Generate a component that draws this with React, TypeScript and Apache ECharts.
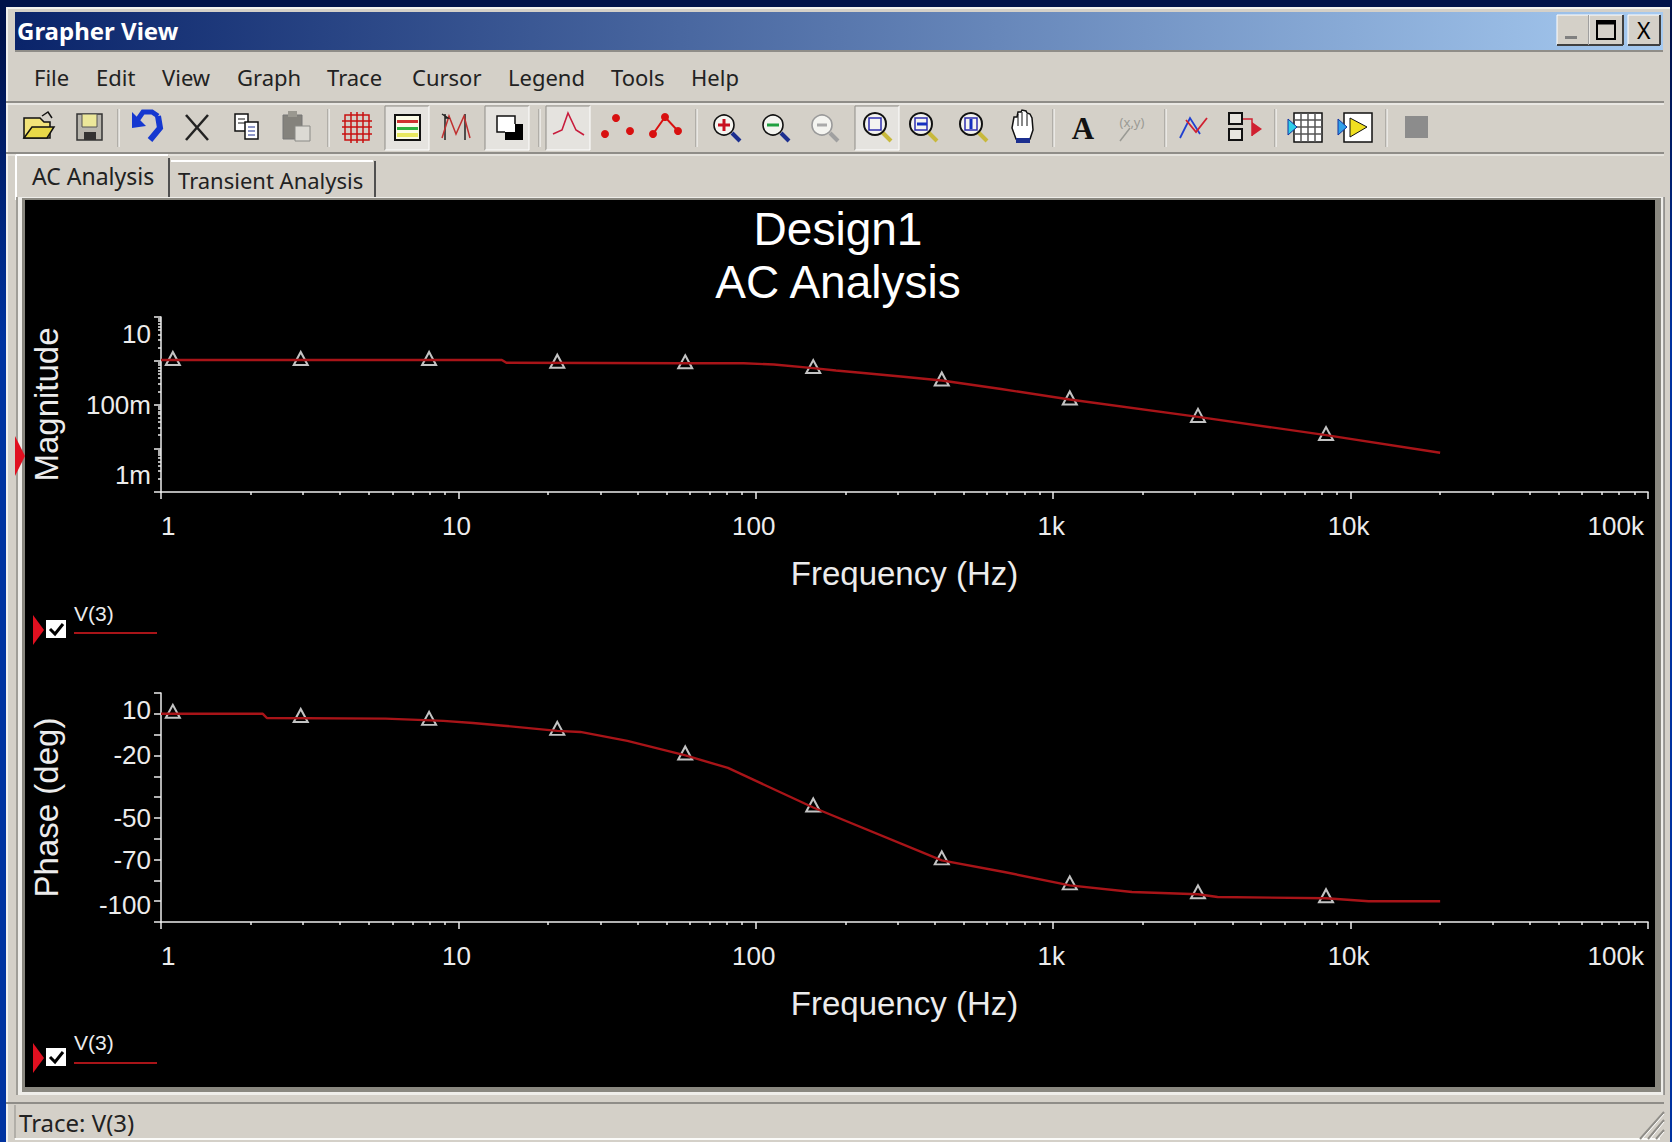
import React, { useEffect, useRef } from "react";
import * as echarts from "echarts";

const xTickLabels = ["1", "10", "100", "1k", "10k", "100k"];
const magTickLabels = ["1m", "", "100m", "", "10"];
const phaseTickLabels: Record<number, string> = { 10: "10", [-20]: "-20", [-50]: "-50", [-70]: "-70", [-100]: "-100" };

const magFreq = [1, 14, 14.5, 57, 91, 115, 156, 186, 230, 320, 422, 668, 1137, 3068, 8267, 20000];
const magValues = [1.04, 1.04, 0.9, 0.875, 0.875, 0.82, 0.68, 0.6, 0.525, 0.425, 0.354, 0.226, 0.13, 0.052, 0.02, 0.0079];

const phaseFreq = [1, 2.2, 2.27, 5.69, 8.9, 11.2, 14.2, 21.5, 25.7, 37, 58, 80.6, 156, 422, 684, 1137, 1840, 3068, 3570, 8267, 11500, 20000];
const phaseValues = [0, 0, -2, -2.3, -3.4, -4.4, -5.7, -8.2, -8.7, -13, -20, -26, -45, -70.4, -76, -82.4, -85.6, -86.7, -88, -88.6, -90, -90];

const markerFreq = [1.096, 2.95, 7.97, 21.5, 57.9, 156, 422, 1137, 3068, 8267];
const magMarkers = [1.04, 1.04, 1.04, 0.9, 0.875, 0.68, 0.354, 0.13, 0.052, 0.02];
const phaseMarkers = [0, -2, -3.4, -8.2, -20, -45, -70.4, -82.4, -86.7, -88.6];

const xMinorTicks = [1, 10, 100, 1000, 10000].flatMap((d) => [2, 3, 4, 5, 6, 7, 8, 9].map((m) => m * d));
const yMinorTicks = [0.001, 0.01, 0.1, 1].flatMap((d) => [2, 3, 4, 5, 6, 7, 8, 9].map((m) => m * d));

const menuItems: [string, number][] = [["File", 34], ["Edit", 96], ["View", 162], ["Graph", 237], ["Trace", 327], ["Cursor", 412], ["Legend", 508], ["Tools", 611], ["Help", 691]];
const separators = [118, 328, 539, 696, 1053, 1165, 1275, 1386];

const UI = "'Noto Sans', sans-serif";
const PLOT = "'Liberation Sans', Arial, sans-serif";
const WHITE = "#ececec";
const RED = "#a81418";
const GREY = "#d4d0c8";

const R = (x: number, y: number, w: number, h: number, fill: any, stroke?: string, lw = 1) => ({ type: "rect", z: -1, silent: true, shape: { x, y, width: w, height: h }, style: { fill, stroke, lineWidth: lw } });
const L = (x1: number, y1: number, x2: number, y2: number, stroke: string, lw = 1) => ({ type: "line", z: -1, silent: true, shape: { x1, y1, x2, y2 }, style: { stroke, lineWidth: lw } });
const P = (points: number[][], fill: string, stroke?: string, lw = 1) => ({ type: "polygon", z: -1, silent: true, shape: { points }, style: { fill, stroke, lineWidth: lw } });
const PL = (points: number[][], stroke: string, lw = 1.5) => ({ type: "polyline", z: -1, silent: true, shape: { points }, style: { stroke, lineWidth: lw, fill: "none" } });
const C = (cx: number, cy: number, r: number, fill: string, stroke?: string, lw = 1) => ({ type: "circle", z: -1, silent: true, shape: { cx, cy, r }, style: { fill, stroke, lineWidth: lw } });
const T = (text: string, x: number, y: number, fontSize: number, fill: string, extra: any = {}) => ({ type: "text", z: -1, silent: true, x, y, style: { text, fontSize, fill, fontFamily: UI, textVerticalAlign: "middle", verticalAlign: "middle", ...extra } });

const CY = 127;

function magnifier(x: number, inner: any[], faded = false) {
  const ring = faded ? "#9a9a9a" : "#111";
  const handle = faded ? "#a0a0a0" : "#1c2f8f";
  return [L(x + 6, CY + 6, x + 14, CY + 14, handle, 4), C(x - 2, CY - 2, 10, "#f4f4f0", ring, 1.6), ...inner];
}
function zoomBox(x: number, inner: any[]) {
  return [L(x + 5, CY + 5, x + 14, CY + 14, "#c8b93c", 4), C(x - 2, CY - 3, 11, "#f4f4f0", "#111", 2), R(x - 8, CY - 9, 12, 12, "#f4f4f0", "#2f2fb0", 1.5), ...inner];
}
function pressed(x: number, w = 44) {
  return [R(x - w / 2, 106, w, 44, "#e5e3df"), L(x - w / 2, 106, x + w / 2, 106, "#8f8d88"), L(x - w / 2, 106, x - w / 2, 150, "#8f8d88"), L(x + w / 2, 106, x + w / 2, 150, "#fff"), L(x - w / 2, 150, x + w / 2, 150, "#fff")];
}

function legendKey(triY: number, boxY: number, textY: number, lineY: number) {
  return [
    P([[33, triY - 15], [44, triY], [33, triY + 15]], "#e01020"),
    R(46, boxY, 20, 18, "#fff"),
    PL([[50, boxY + 9], [55, boxY + 14], [63, boxY + 4]], "#000", 3),
    T("V(3)", 74, textY, 21, WHITE, { fontFamily: PLOT }),
    L(74, lineY, 157, lineY, RED, 2),
  ];
}

const chrome: any[] = [
  R(0, 0, 1672, 1142, { type: "linear", x: 0, y: 0, x2: 0, y2: 1, colorStops: [{ offset: 0, color: "#00124a" }, { offset: 0.03, color: "#00124a" }, { offset: 0.3, color: "#0033a0" }, { offset: 1, color: "#0033a0" }] }),
  R(6, 7, 1664, 1135, GREY),
  L(6, 8, 1670, 8, "#f2f1ee", 2),
  L(7, 8, 7, 1142, "#f2f1ee", 2),
  R(15, 12, 1648, 38, { type: "linear", x: 0, y: 0, x2: 1, y2: 0, colorStops: [{ offset: 0, color: "#0a246a" }, { offset: 1, color: "#a6caf0" }] }),
  L(15, 51, 1663, 51, "#8f8d88", 2),
  T("Grapher View", 17, 30, 24, "#fff", { fontWeight: "bold" }),
  // window buttons
  ...[[1557, 32], [1589, 34], [1628, 32]].flatMap(([x, w]) => [R(x, 15, w, 30, GREY), L(x, 15, x + w, 15, "#fff"), L(x, 15, x, 45, "#fff"), L(x + w, 15, x + w, 45, "#404040", 2), L(x, 45, x + w, 45, "#404040", 2)]),
  R(1565, 36, 12, 3, "#808080"),
  R(1597, 21, 18, 18, "none", "#000", 2),
  L(1597, 23, 1615, 23, "#000", 3),
  T("X", 1637, 30, 23, "#000"),
  // menu
  ...menuItems.map(([t, x]) => T(t, x, 77, 22, "#222")),
  L(6, 102, 1664, 102, "#8f8d88", 2),
  L(6, 104, 1664, 104, "#fff", 1),
  L(6, 153, 1664, 153, "#8f8d88", 2),
  L(6, 155, 1664, 155, "#f6f5f2", 1),
  ...separators.flatMap((x) => [L(x, 109, x, 147, "#8f8d88"), L(x + 1, 109, x + 1, 147, "#fff")]),
  // pressed toolbar buttons
  ...pressed(407), ...pressed(507), ...pressed(568), ...pressed(877),
  // open
  P([[24, 138], [24, 118], [40, 118], [44, 122], [50, 122], [50, 138]], "#f2e37a", "#111", 1.5),
  P([[24, 138], [32, 127], [54, 127], [47, 138]], "#e8d848", "#111", 1.5),
  PL([[42, 116], [48, 112], [52, 118]], "#111", 1.5),
  // save
  R(77, 114, 25, 26, "#b8b6ae", "#333", 1.5),
  R(82, 114, 15, 13, "#ece89a", "#555", 1),
  R(84, 132, 12, 8, "#333"),
  // undo
  PL([[158, 116], [152, 112], [143, 112], [136, 122]], "#1538d0", 5),
  PL([[150, 140], [160, 128], [158, 116]], "#1538d0", 6),
  P([[132, 112], [132, 128], [146, 126]], "#1538d0"),
  // cut
  L(186, 115, 208, 140, "#222", 2.5),
  L(208, 115, 186, 140, "#222", 2.5),
  // copy
  R(235, 114, 13, 17, "#fff", "#111", 1.5),
  L(238, 119, 245, 119, "#111"), L(238, 123, 245, 123, "#111"),
  R(245, 122, 13, 17, "#fff", "#111", 1.5),
  L(248, 127, 255, 127, "#1c2f8f"), L(248, 131, 255, 131, "#1c2f8f"), L(248, 135, 255, 135, "#1c2f8f"),
  // paste
  R(283, 115, 19, 24, "#84827c", "#777", 1),
  R(288, 111, 9, 6, "#9a9890"),
  R(295, 126, 15, 15, "#dcdad4", "#8a8a86", 1),
  // grid
  R(345, 115, 24, 25, "none", "#c81010", 1.5),
  ...[351, 357, 363].map((x) => L(x, 112, x, 143, "#c81010", 1.5)),
  ...[121, 127, 134].map((y) => L(342, y, 372, y, "#c81010", 1.5)),
  // legend toggle
  R(395, 115, 25, 25, "#fbfbe8", "#111", 2),
  R(397, 120, 21, 3, "#d03030"), R(397, 127, 21, 3, "#30b040"), R(397, 133, 21, 4, "#e8e860"),
  // chart toggle
  PL([[445, 114], [445, 140]], "#222", 1.5), PL([[465, 114], [465, 140]], "#222", 1.5),
  PL([[442, 138], [449, 116], [456, 134], [464, 116], [470, 138]], "#c03030", 1.5),
  PL([[442, 114], [448, 118], [445, 118]], "#222", 1.5),
  // reverse colours
  R(497, 116, 18, 16, "#fff", "#111", 1.5),
  R(505, 124, 18, 16, "#000"),
  R(505, 124, 10, 8, "#fff"),
  // trace line only
  PL([[553, 134], [562, 130], [568, 113], [576, 130], [584, 135]], "#c81c3c", 1.6),
  // dots
  C(605, 134, 4, "#d81010"), C(616, 118, 4, "#d81010"), C(630, 131, 4, "#d81010"),
  // line + dots
  PL([[653, 134], [665, 117], [678, 131]], "#d81010", 2),
  C(653, 134, 4, "#d81010"), C(665, 117, 4, "#d81010"), C(678, 131, 4, "#d81010"),
  // zooms
  ...magnifier(726, [L(718, 125, 730, 125, "#c81020", 3), L(724, 119, 724, 131, "#c81020", 3)]),
  ...magnifier(775, [L(767, 125, 779, 125, "#20a040", 3)]),
  ...magnifier(824, [L(817, 125, 827, 125, "#aaa", 3)], true),
  ...zoomBox(877, []),
  ...zoomBox(923, [L(917, 124, 927, 124, "#1530c0", 3)]),
  ...zoomBox(973, [L(971, 119, 971, 129, "#1530c0", 3)]),
  // hand
  P([[1012, 128], [1014, 117], [1017, 117], [1018, 112], [1021, 112], [1022, 110], [1026, 111], [1027, 113], [1030, 114], [1032, 118], [1033, 130], [1030, 139], [1016, 139]], "#fff", "#111", 1.5),
  L(1018, 114, 1018, 126, "#111"), L(1022, 112, 1022, 126, "#111"), L(1027, 114, 1027, 126, "#111"),
  R(1016, 138, 14, 5, "#1c2f8f"),
  // text tool
  T("A", 1083, 128, 31, "#111", { fontFamily: "'Liberation Serif', serif", fontWeight: "bold", textAlign: "center", align: "center" }),
  T("(x,y)", 1132, 122, 13, "#9a9a94", { textAlign: "center", align: "center" }),
  L(1120, 141, 1130, 128, "#9a9a94", 1.5),
  // traces
  PL([[1180, 138], [1190, 118], [1200, 134]], "#2040d0", 1.8),
  PL([[1186, 120], [1196, 132], [1207, 118]], "#d02030", 1.8),
  // export
  R(1229, 113, 13, 11, "#e8e6e0", "#111", 2), R(1229, 129, 13, 11, "#e8e6e0", "#111", 2),
  PL([[1243, 119], [1252, 119], [1252, 136]], "#d02030", 1.5),
  P([[1252, 122], [1262, 129], [1252, 136]], "#d02030"),
  // excel
  R(1294, 113, 28, 29, "#fff", "#111", 1.5),
  ...[1301, 1308, 1315].map((x) => L(x, 113, x, 142, "#555", 1.5)),
  ...[120, 127, 134].map((y) => L(1294, y, 1322, y, "#555", 1.5)),
  P([[1288, 119], [1297, 127], [1288, 135]], "#30d0e8", "#1030a0"),
  // LabVIEW
  R(1344, 113, 28, 29, "#fff", "#111", 1.5),
  P([[1350, 118], [1367, 127], [1350, 137]], "#f0e020", "#111"),
  P([[1338, 119], [1347, 127], [1338, 135]], "#30a0e8", "#1030a0"),
  // stop
  R(1405, 116, 23, 22, "#8c8c8c"),
  // tabs
  R(16, 155, 153, 46, GREY), L(16, 155, 168, 155, "#fff", 2), L(16, 155, 16, 200, "#fff", 2), L(169, 158, 169, 200, "#505050", 2),
  L(171, 161, 373, 161, "#fff", 2), L(375, 161, 375, 197, "#505050", 2),
  T("AC Analysis", 32, 176, 23, "#222"),
  T("Transient Analysis", 178, 180, 22, "#222"),
  // plot frame
  R(16, 197, 1648, 898, "#efeeea"),
  L(17, 197, 17, 1095, "#a09e98", 2),
  R(22, 198, 1639, 894, "#8a8880"),
  R(25, 200, 1630, 887, "#000"),
  L(1664, 197, 1664, 1095, "#555", 1),
  // status bar
  L(6, 1103, 1664, 1103, "#8f8d88", 2),
  L(15, 1105, 15, 1138, "#8f8d88", 1),
  L(15, 1139, 1660, 1139, "#fbfbf9", 2),
  T("Trace: V(3)", 19, 1122, 24, "#222"),
  ...[[1640, 1139, 1664, 1112], [1648, 1139, 1664, 1120], [1656, 1139, 1664, 1130]].flatMap(([a, b, c, d]) => [L(a, b, c, d, "#8f8d88", 2), L(a + 2, b, c, d + 2, "#fff", 1)]),
  // left markers
  P([[15, 436], [25, 456], [15, 476]], "#e01020"),
  ...legendKey(630, 620, 613, 633),
  ...legendKey(1058, 1048, 1042, 1063),
];

const xAxisBase = {
  type: "log", min: 1, max: 100000, logBase: 10, splitLine: { show: false }, position: "bottom",
};

function majorX(gridIndex: number) {
  return {
    ...xAxisBase, gridIndex, interval: 1,
    name: "Frequency (Hz)", nameLocation: "middle", nameGap: 65,
    nameTextStyle: { color: WHITE, fontSize: 33, fontFamily: PLOT },
    axisLine: { show: true, onZero: false, lineStyle: { color: WHITE, width: 1.5 } },
    axisTick: { show: true, length: 7, lineStyle: { color: WHITE, width: 1.5 } },
    axisLabel: { show: true, color: WHITE, fontSize: 26, fontFamily: PLOT, margin: 21, padding: [0, 4, 0, 0], showMinLabel: true, showMaxLabel: true, hideOverlap: false, alignMinLabel: "left", alignMaxLabel: "right", formatter: (_: number, i: number) => xTickLabels[i] ?? "" },
    minorTick: { show: false },
  };
}
function minorX(gridIndex: number) {
  return {
    ...xAxisBase, gridIndex,
    axisLine: { show: false, onZero: false },
    axisTick: { show: true, length: 3, customValues: xMinorTicks, lineStyle: { color: WHITE, width: 1.5 } },
    axisLabel: { show: false },
  };
}

const option: any = {
  animation: false,
  backgroundColor: "#0033a0",
  title: [
    { text: "Design1", left: 833, top: 201, textAlign: "center", textStyle: { color: "#fff", fontSize: 46, fontWeight: "normal", fontFamily: PLOT } },
    { text: "AC Analysis", left: 833, top: 254, textAlign: "center", textStyle: { color: "#fff", fontSize: 46, fontWeight: "normal", fontFamily: PLOT } },
  ],
  grid: [
    { left: 161, top: 317, width: 1487, height: 175 },
    { left: 161, top: 693, width: 1487, height: 229 },
  ],
  xAxis: [majorX(0), minorX(0), majorX(1), minorX(1)],
  yAxis: [
    {
      type: "log", gridIndex: 0, min: 0.001, max: 10, logBase: 10, interval: 1, position: "left",
      name: "Magnitude", nameLocation: "middle", nameGap: 98, nameRotate: 90,
      nameTextStyle: { color: WHITE, fontSize: 33, fontFamily: PLOT },
      splitLine: { show: false },
      axisLine: { show: true, lineStyle: { color: WHITE, width: 1.5 } },
      axisTick: { show: true, length: 7, lineStyle: { color: WHITE, width: 1.5 } },
      axisLabel: { show: true, color: WHITE, fontSize: 26, fontFamily: PLOT, margin: 10, lineHeight: 34, showMinLabel: true, showMaxLabel: true, hideOverlap: false, verticalAlignMinLabel: "bottom", verticalAlignMaxLabel: "top", formatter: (_: number, i: number) => magTickLabels[i] ?? "" },
    },
    {
      type: "log", gridIndex: 0, min: 0.001, max: 10, logBase: 10, position: "left",
      splitLine: { show: false }, axisLine: { show: false }, axisLabel: { show: false },
      axisTick: { show: true, length: 3, customValues: yMinorTicks, lineStyle: { color: WHITE, width: 1.5 } },
    },
    {
      type: "value", gridIndex: 1, min: -100, max: 10, interval: 10, position: "left",
      name: "Phase (deg)", nameLocation: "middle", nameGap: 98, nameRotate: 90,
      nameTextStyle: { color: WHITE, fontSize: 33, fontFamily: PLOT },
      splitLine: { show: false },
      axisLine: { show: true, onZero: false, lineStyle: { color: WHITE, width: 1.5 } },
      axisTick: { show: true, length: 7, lineStyle: { color: WHITE, width: 1.5 } },
      axisLabel: { show: true, color: WHITE, fontSize: 26, fontFamily: PLOT, margin: 10, lineHeight: 34, showMinLabel: true, showMaxLabel: true, hideOverlap: false, verticalAlignMinLabel: "bottom", verticalAlignMaxLabel: "top", formatter: (v: number) => phaseTickLabels[v] ?? "" },
    },
  ],
  series: [
    { type: "line", name: "V(3)", xAxisIndex: 0, yAxisIndex: 0, showSymbol: false, silent: true, lineStyle: { color: RED, width: 2.4 }, data: magFreq.map((f, i) => [f, magValues[i]]) },
    { type: "scatter", name: "V(3) markers", xAxisIndex: 0, yAxisIndex: 0, symbol: "triangle", symbolSize: [14, 13], symbolOffset: [0, -1.5], silent: true, itemStyle: { color: "rgba(0,0,0,0)", borderColor: "#f4f4f4", borderWidth: 2 }, data: markerFreq.map((f, i) => [f, magMarkers[i]]) },
    { type: "line", name: "V(3)", xAxisIndex: 2, yAxisIndex: 2, showSymbol: false, silent: true, lineStyle: { color: RED, width: 2.4 }, data: phaseFreq.map((f, i) => [f, phaseValues[i]]) },
    { type: "scatter", name: "V(3) markers", xAxisIndex: 2, yAxisIndex: 2, symbol: "triangle", symbolSize: [14, 13], symbolOffset: [0, -2.5], silent: true, itemStyle: { color: "rgba(0,0,0,0)", borderColor: "#f4f4f4", borderWidth: 2 }, data: markerFreq.map((f, i) => [f, phaseMarkers[i]]) },
  ],
  graphic: { elements: chrome },
};

export default function App() {
  const ref = useRef<HTMLDivElement>(null);
  useEffect(() => {
    document.body.style.margin = "0";
    document.body.style.overflow = "hidden";
    const chart = echarts.init(ref.current!, undefined, { renderer: "svg" });
    chart.setOption(option);
    return () => chart.dispose();
  }, []);
  return <div ref={ref} style={{ width: 1672, height: 1142 }} />;
}
